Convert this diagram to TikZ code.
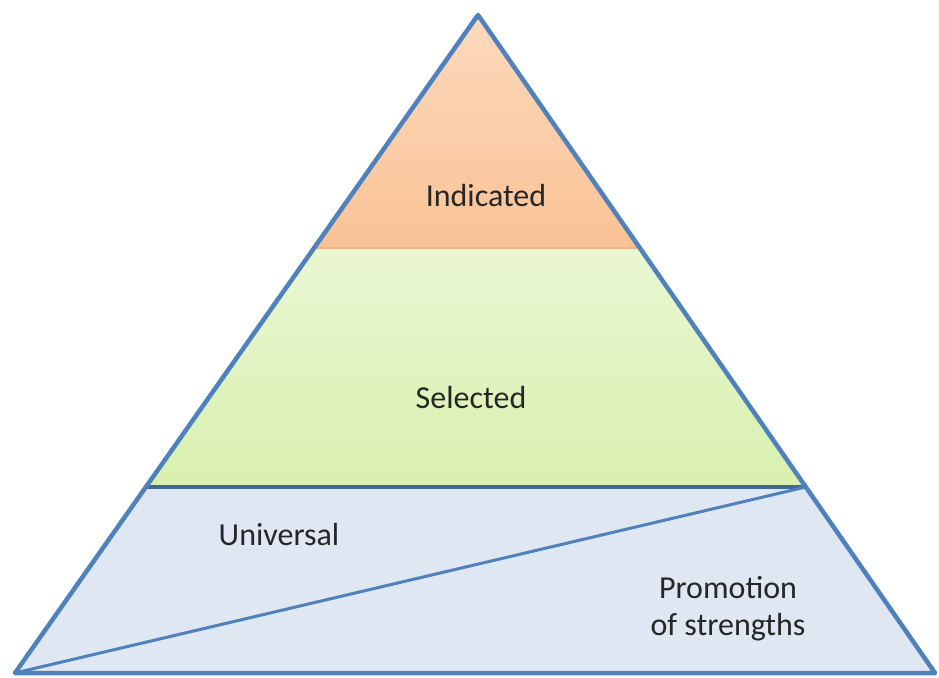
\documentclass[tikz,border=0pt]{standalone}
\usepackage{fontspec}
\setmainfont{Carlito}
\usetikzlibrary{calc}
\definecolor{edgeblue}{HTML}{4F81BD}
\definecolor{orangeTop}{HTML}{FCD9BD}
\definecolor{orangeBot}{HTML}{FAC295}
\definecolor{greenTop}{HTML}{EAF7D2}
\definecolor{greenBot}{HTML}{D8F0AE}
\definecolor{blueFill}{HTML}{DEE7F2}
\definecolor{txt}{HTML}{262626}
\tikzset{
  edge/.style={draw=edgeblue, line width=4.5pt, line join=round},
  lbl/.style={text=txt, font=\fontsize{32}{37}\selectfont, inner sep=0pt, align=center},
}
\begin{document}
\begin{tikzpicture}[x=1pt,y=-1pt]
\useasboundingbox (0,0) rectangle (939,677);
\fill[white] (0,0) rectangle (939,677);
\coordinate (A) at (478,15);
\coordinate (BL) at (15,673);
\coordinate (BR) at (935,673);
\coordinate (L1) at ($(A)!0.3541!(BL)$);
\coordinate (R1) at ($(A)!0.3541!(BR)$);
\coordinate (L2) at ($(A)!0.7173!(BL)$);
\coordinate (R2) at ($(A)!0.7173!(BR)$);
% fills
\shade[top color=orangeTop, bottom color=orangeBot] (A) -- (R1) -- (L1) -- cycle;
\shade[top color=greenTop, bottom color=greenBot] (L1) -- (R1) -- (R2) -- (L2) -- cycle;
\fill[blueFill] (L2) -- (R2) -- (BR) -- (BL) -- cycle;
% orange lower edge shadow
\draw[draw=orangeBot!80!brown, line width=1.5pt] (L1) -- (R1);
% separators
\draw[draw=edgeblue!80!black, line width=3.5pt] (L2) -- (R2);
\draw[draw=edgeblue, line width=3pt] (BL) -- (R2);
% outline
\draw[edge] (A) -- (BR) -- (BL) -- cycle;
% labels
\node[lbl] (ind) at (486,196) {Indicated};
\node[lbl] (sel) at (471,398) {Selected};
\node[lbl] (uni) at (279,535) {Universal};
\node[lbl] (pro) at (728,609) {Promotion\\of strengths};
\end{tikzpicture}
\end{document}
